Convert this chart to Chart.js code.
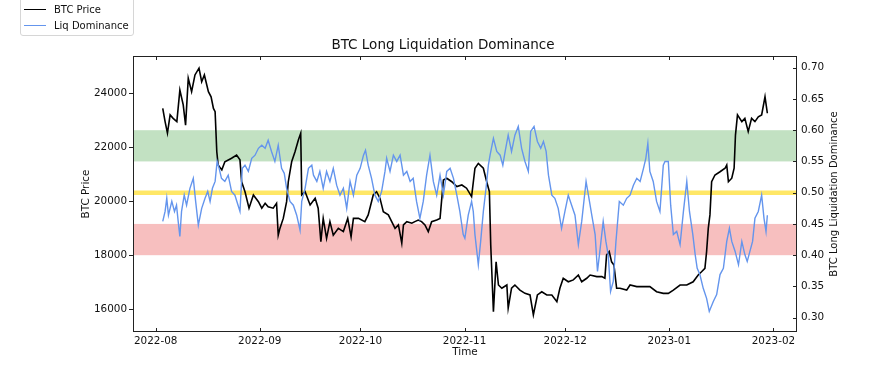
<!DOCTYPE html>
<html>
<head>
<meta charset="utf-8">
<script src="https://cdn.jsdelivr.net/npm/chart.js@4.4.0/dist/chart.umd.min.js"></script>
<style>
  body { margin: 0; background: #fff; font-family: "DejaVu Sans", sans-serif; }
  #wrap { position: relative; width: 886px; height: 369px; overflow: hidden; }
  #legend {
    position: absolute; left: 20px; top: -3px; width: 112px; height: 37px;
    border: 1px solid #d6d6d6; border-radius: 3px; background: rgba(255,255,255,0.85);
    font-size: 10px; color: #111;
  }
  .item { position: absolute; left: 3px; height: 14px; display: flex; align-items: center; white-space: nowrap; }
  .swatch { width: 22px; height: 0; margin-right: 8px; }
</style>
</head>
<body>
<div id="wrap">
  <canvas id="chart" width="886" height="369"></canvas>
  <div id="legend">
    <div class="item" style="top:4px"><span class="swatch" style="border-top:1.5px solid #000"></span>BTC Price</div>
    <div class="item" style="top:20px"><span class="swatch" style="border-top:1.5px solid #6495ED"></span>Liq Dominance</div>
  </div>
</div>
<script>
// ================= DATA =================
// x = days since 2022-08-01
const priceDays = [2.1,2.8,3.5,4.3,5.2,6.3,7.2,8.2,8.9,9.7,
  10.7,11.7,12.9,13.7,14.5,15.7,16.5,17.2,17.7,18.2,
  18.6,19.7,20.6,22.6,24.1,25.1,25.6,26.6,27.8,29.1,
  30.6,31.6,32.6,33.5,35.0,36.0,36.5,37.0,38.0,39.0,
  39.5,40.5,41.5,42.5,43.2,43.5,44.5,46.0,47.5,48.4,
  49.2,49.9,50.9,51.9,52.9,54.4,55.9,57.2,58.2,58.9,
  60.4,62.3,63.3,64.8,65.8,66.8,67.8,69.3,70.3,71.3,
  72.3,73.3,73.8,74.8,76.3,77.2,78.2,79.2,80.2,81.2,
  82.2,83.7,84.7,85.7,86.7,88.2,89.7,91.2,92.6,94.1,
  95.1,96.1,97.6,98.6,99.4,99.8,100.6,101.4,102.1,103.1,
  104.6,105.0,106.0,107.0,108.5,110.0,111.5,112.5,113.7,115.0,
  116.5,118.0,119.5,120.4,121.4,122.9,124.4,125.9,126.9,128.4,
  129.4,131.4,132.9,133.8,134.3,135.1,135.8,136.5,137.3,138.3,
  140.3,141.3,143.3,145.2,147.2,149.2,151.2,152.7,154.2,156.2,
  158.2,160.1,161.6,162.6,163.6,164.1,164.6,165.1,165.6,166.6,
  168.1,169.6,170.1,170.6,171.6,172.3,172.7,173.3,174.6,175.5,
  176.5,177.5,178.5,179.5,180.5,181.5,182.2];

const priceValues = [23440,22950,22520,23200,23070,22950,24120,23570,22820,24560,
  24060,24680,24930,24430,24680,24060,23870,23440,23320,21830,
  21340,21160,21460,21590,21710,21530,20720,20350,19740,20230,
  19980,19740,19920,19790,19740,19920,18740,18990,19360,19980,
  20720,21460,21830,22270,22520,20230,20350,19860,20110,19740,
  18500,19360,18620,19240,18740,18990,18870,19360,18680,19360,
  19360,19240,19490,20230,20350,20110,19610,19490,19240,18990,
  19120,18440,19120,19240,19180,19240,19300,19240,19120,18870,
  19240,19300,19360,20780,20850,20720,20540,20600,20480,20170,
  21220,21400,21220,20720,20350,18370,15900,17750,16890,16770,
  16890,16030,16770,16890,16700,16580,16520,15780,16520,16640,
  16520,16520,16270,16770,17140,17010,17080,17260,17010,17140,
  17260,17200,17200,17140,18000,18130,17750,17630,16770,16770,
  16700,16890,16830,16830,16830,16640,16580,16580,16700,16890,
  16890,17010,17260,17380,17510,18130,18990,19490,20720,20970,
  21090,21220,21340,20720,20850,21220,22450,23200,22950,23070,
  22580,23070,22950,23130,23200,23870,23260];

const domDays = [2.1,2.8,3.3,3.8,4.8,5.6,6.2,6.7,7.2,7.7,
  8.5,9.2,10.2,11.2,11.9,12.7,13.7,14.7,15.5,16.2,
  16.9,17.7,18.3,18.9,19.6,20.6,21.6,22.6,23.6,25.1,
  25.8,26.6,27.6,28.6,29.6,30.6,31.6,32.6,33.5,34.5,
  35.5,36.5,37.5,38.3,39.0,40.0,41.0,42.0,43.0,43.5,
  44.5,45.5,46.5,47.0,48.0,48.9,49.9,50.9,51.9,52.9,
  53.9,54.9,55.9,56.9,57.9,58.9,59.9,60.9,61.9,62.5,
  63.3,64.3,65.3,66.3,67.3,68.3,68.8,69.8,70.8,71.8,
  72.8,73.8,74.8,75.8,76.7,77.7,78.7,79.7,80.7,81.7,
  82.7,83.7,84.7,85.7,86.7,87.7,88.7,89.7,90.6,91.6,
  92.1,93.1,94.1,94.6,95.1,96.1,96.8,97.6,98.4,99.1,
  99.6,100.6,101.6,102.6,103.4,104.1,105.0,106.0,107.0,108.0,
  109.0,110.0,111.0,111.7,112.7,113.7,114.7,115.5,116.3,117.0,
  118.0,118.9,119.9,120.9,121.9,122.9,123.9,124.9,125.9,126.9,
  128.2,128.9,129.9,130.9,131.6,132.4,133.3,134.1,134.8,135.5,
  136.3,137.1,138.1,139.3,140.3,141.3,142.3,143.3,144.3,145.3,
  146.0,146.6,147.2,148.2,149.2,150.2,151.2,151.7,152.7,153.4,
  154.2,155.2,156.2,157.2,158.2,159.0,160.0,160.7,161.3,162.1,
  163.1,164.1,164.9,166.1,167.1,168.1,169.1,170.1,170.9,171.6,
  172.6,173.6,174.6,175.5,176.2,177.0,177.8,178.5,179.5,180.5,
  181.2,181.8,182.2];

const domValues = [0.454,0.470,0.491,0.464,0.486,0.470,0.480,0.454,0.430,0.470,
  0.496,0.480,0.507,0.523,0.486,0.448,0.475,0.491,0.502,0.486,
  0.507,0.518,0.550,0.539,0.523,0.518,0.528,0.502,0.496,0.470,
  0.539,0.544,0.534,0.555,0.560,0.571,0.576,0.571,0.584,0.566,
  0.550,0.576,0.539,0.531,0.507,0.486,0.480,0.464,0.440,0.486,
  0.507,0.539,0.544,0.528,0.518,0.534,0.507,0.534,0.518,0.539,
  0.512,0.496,0.507,0.475,0.518,0.496,0.528,0.539,0.560,0.568,
  0.544,0.523,0.496,0.486,0.502,0.534,0.555,0.534,0.560,0.550,
  0.560,0.528,0.534,0.518,0.523,0.486,0.459,0.486,0.528,0.560,
  0.518,0.496,0.528,0.496,0.534,0.539,0.523,0.496,0.470,0.433,
  0.427,0.464,0.486,0.470,0.433,0.385,0.422,0.470,0.507,0.544,
  0.560,0.587,0.566,0.560,0.544,0.566,0.592,0.566,0.592,0.606,
  0.571,0.550,0.534,0.598,0.606,0.582,0.571,0.582,0.566,0.528,
  0.496,0.491,0.475,0.443,0.470,0.496,0.480,0.464,0.417,0.454,
  0.518,0.496,0.464,0.433,0.374,0.411,0.454,0.422,0.400,0.342,
  0.358,0.422,0.486,0.480,0.491,0.496,0.512,0.523,0.518,0.539,
  0.555,0.579,0.534,0.518,0.486,0.470,0.544,0.550,0.550,0.480,
  0.433,0.438,0.417,0.470,0.518,0.470,0.433,0.401,0.379,0.369,
  0.347,0.331,0.310,0.326,0.337,0.369,0.379,0.422,0.443,0.422,
  0.406,0.385,0.422,0.401,0.390,0.406,0.422,0.459,0.470,0.496,
  0.459,0.438,0.464];

const tickLabels = ["2022-08","2022-09","2022-10","2022-11","2022-12","2023-01","2023-02"];
const priceTicks = [16000, 18000, 20000, 22000, 24000];
const domTicks = [0.30, 0.35, 0.40, 0.45, 0.50, 0.55, 0.60, 0.65, 0.70];

// zones on the dominance axis
const greenZone = [0.55, 0.60];
const redZone = [0.40, 0.45];
const neutralLevel = 0.50;

// ================= HELPERS =================
const DAY = 86400000;
const base = Date.UTC(2022, 7, 1);
const tickDays = tickLabels.map(l => {
    const [y, m] = l.split("-").map(Number);
    return (Date.UTC(y, m - 1, 1) - base) / DAY;
});

const pricePoints = priceDays.map((d, i) => ({ x: d, y: priceValues[i] }));
const domPoints = domDays.map((d, i) => ({ x: d, y: domValues[i] }));

const FONT = "'DejaVu Sans', sans-serif";
const TXT = "#111";
const FRAME = "#222";

// bands behind the lines
const zonesPlugin = {
    id: "zones",
    beforeDatasetsDraw(chart) {
        const { ctx, chartArea: a, scales } = chart;
        const y2 = scales.y2;
        ctx.save();
        ctx.beginPath();
        ctx.rect(a.left, a.top, a.right - a.left, a.bottom - a.top);
        ctx.clip();

        const band = (lo, hi, color) => {
            const top = y2.getPixelForValue(hi);
            const bot = y2.getPixelForValue(lo);
            ctx.fillStyle = color;
            ctx.fillRect(a.left, top, a.right - a.left, bot - top);
        };
        band(greenZone[0], greenZone[1], "rgba(0,128,0,0.24)");
        band(redZone[0], redZone[1], "rgba(240,128,128,0.5)");

        const yl = y2.getPixelForValue(neutralLevel);
        ctx.strokeStyle = "rgba(255,215,0,0.6)";
        ctx.lineWidth = 4.5;
        ctx.beginPath();
        ctx.moveTo(a.left, yl);
        ctx.lineTo(a.right, yl);
        ctx.stroke();
        ctx.restore();
    }
};

// axes box, inward tick marks, right axis title (reads bottom-to-top)
const framePlugin = {
    id: "frame",
    afterDraw(chart) {
        const { ctx, chartArea: a, scales } = chart;
        ctx.save();
        ctx.strokeStyle = FRAME;
        ctx.lineWidth = 1;
        ctx.strokeRect(a.left + 0.5, a.top + 0.5, a.right - a.left - 1, a.bottom - a.top - 1);

        ctx.beginPath();
        tickDays.forEach(d => {
            const x = Math.round(scales.x.getPixelForValue(d)) + 0.5;
            ctx.moveTo(x, a.bottom); ctx.lineTo(x, a.bottom - 4);
            ctx.moveTo(x, a.top); ctx.lineTo(x, a.top + 4);
        });
        domTicks.forEach(v => {
            const y = Math.round(scales.y2.getPixelForValue(v)) + 0.5;
            ctx.moveTo(a.right, y); ctx.lineTo(a.right - 4, y);
        });
        ctx.stroke();

        ctx.translate(834, (a.top + a.bottom) / 2);
        ctx.rotate(-Math.PI / 2);
        ctx.fillStyle = TXT;
        ctx.font = "10px " + FONT;
        ctx.textAlign = "center";
        ctx.textBaseline = "middle";
        ctx.fillText("BTC Long Liquidation Dominance", 0, 0);
        ctx.restore();
    }
};

// ================= CHART =================
new Chart(document.getElementById("chart"), {
    type: "line",
    data: {
        datasets: [
            {
                label: "Liq Dominance",
                data: domPoints,
                yAxisID: "y2",
                borderColor: "#6495ED",
                borderWidth: 1.4,
                pointRadius: 0,
                order: 0
            },
            {
                label: "BTC Price",
                data: pricePoints,
                yAxisID: "y",
                borderColor: "#000",
                borderWidth: 1.6,
                pointRadius: 0,
                order: 1
            }
        ]
    },
    options: {
        responsive: false,
        animation: false,
        layout: { padding: 0 },
        plugins: {
            legend: { display: false },
            tooltip: { enabled: false },
            title: {
                display: true,
                text: "BTC Long Liquidation Dominance",
                color: TXT,
                font: { family: FONT, size: 13.5, weight: "normal" },
                padding: { top: 37.4, bottom: 2.4 }
            }
        },
        scales: {
            x: {
                type: "linear",
                min: -6.76,
                max: 191.03,
                afterBuildTicks: s => { s.ticks = tickDays.map(v => ({ value: v })); },
                afterFit: s => { s.height = 37; },
                ticks: {
                    autoSkip: false, maxRotation: 0, padding: 3, color: TXT,
                    font: { family: FONT, size: 10.4 },
                    callback: (v, i) => tickLabels[i]
                },
                grid: { display: false, drawTicks: false },
                border: { display: false },
                title: {
                    display: true, text: "Time", color: TXT,
                    font: { family: FONT, size: 10.4 },
                    padding: { top: 0, bottom: 10 }
                }
            },
            y: {
                position: "left",
                min: 15147,
                max: 25383,
                afterBuildTicks: s => { s.ticks = priceTicks.map(v => ({ value: v })); },
                afterFit: s => { s.width = 133; },
                ticks: {
                    padding: 2, color: TXT,
                    font: { family: FONT, size: 10.4 },
                    callback: v => String(v)
                },
                grid: { drawOnChartArea: false, drawTicks: true, tickLength: 4, color: FRAME },
                border: { display: false },
                title: {
                    display: true, text: "BTC Price", color: TXT,
                    font: { family: FONT, size: 10.4 },
                    padding: { top: 80, bottom: 0 }
                }
            },
            y2: {
                position: "right",
                min: 0.2771,
                max: 0.7187,
                afterBuildTicks: s => { s.ticks = domTicks.map(v => ({ value: v })); },
                afterFit: s => { s.width = 89; },
                ticks: {
                    padding: 4, color: TXT,
                    font: { family: FONT, size: 10.4 },
                    callback: v => v.toFixed(2)
                },
                grid: { display: false, drawTicks: false },
                border: { display: false },
                title: { display: false }
            }
        }
    },
    plugins: [zonesPlugin, framePlugin]
});
</script>
</body>
</html>
